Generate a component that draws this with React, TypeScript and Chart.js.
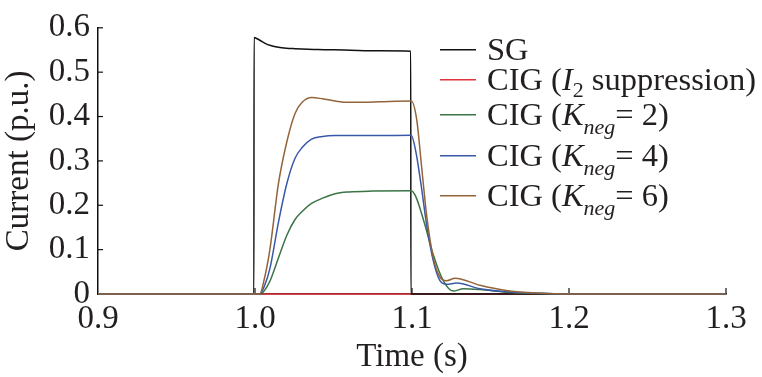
import React, { useEffect, useRef } from "react";
import { Chart, registerables } from "chart.js";

Chart.register(...registerables);

// ---- data (time in s, current in p.u.) ----
const xTicks = [0.9, 1.0, 1.1, 1.2, 1.3];
const yTicks = [0, 0.1, 0.2, 0.3, 0.4, 0.5, 0.6];

const sgTime = [0.9, 0.9993, 0.9994, 1.003, 1.0064, 1.01, 1.0149, 1.02, 1.0255, 1.04, 1.057, 1.08, 1.0992, 1.0993, 1.3];
const sgCurrent = [0, 0, 0.578, 0.572, 0.565, 0.56, 0.556, 0.554, 0.553, 0.551, 0.55, 0.548, 0.547, 0, 0];

const supTime = [0.9, 1.3];
const supCurrent = [0, 0];

const k2Time = [0.9, 1.003, 1.006, 1.0096, 1.0149, 1.0202, 1.0255, 1.03, 1.036, 1.043, 1.051, 1.06, 1.075, 1.0995, 1.1025, 1.1078, 1.1136, 1.1199, 1.1263, 1.1327, 1.1433, 1.16, 1.18, 1.2, 1.3];
const k2Current = [0, 0, 0.008, 0.03, 0.081, 0.132, 0.168, 0.186, 0.204, 0.216, 0.226, 0.23, 0.232, 0.233, 0.219, 0.161, 0.088, 0.03, 0.0065, 0.012, 0.01, 0.004, 0.001, 0, 0];

const k4Time = [0.9, 1.003, 1.006, 1.0096, 1.0149, 1.0202, 1.0255, 1.03, 1.036, 1.043, 1.051, 1.07, 1.0995, 1.1025, 1.1057, 1.1094, 1.1136, 1.1178, 1.122, 1.1285, 1.1433, 1.16, 1.18, 1.2, 1.3];
const k4Current = [0, 0, 0.018, 0.059, 0.161, 0.248, 0.306, 0.33, 0.349, 0.355, 0.357, 0.357, 0.358, 0.32, 0.248, 0.154, 0.074, 0.03, 0.022, 0.0246, 0.012, 0.005, 0.0015, 0, 0];

const k6Time = [0.9, 1.003, 1.006, 1.0096, 1.0149, 1.0202, 1.0255, 1.03, 1.036, 1.043, 1.051, 1.06, 1.07, 1.085, 1.0995, 1.103, 1.1062, 1.1094, 1.1136, 1.1178, 1.1221, 1.1274, 1.1433, 1.16, 1.18, 1.2, 1.3];
const k6Current = [0, 0, 0.035, 0.103, 0.248, 0.342, 0.407, 0.432, 0.443, 0.44, 0.435, 0.432, 0.432, 0.434, 0.435, 0.393, 0.284, 0.175, 0.081, 0.038, 0.03, 0.0355, 0.0196, 0.008, 0.002, 0, 0];

const FONT = "'Liberation Serif', 'Times New Roman', serif";
const TEXT = "#231f20";

const COLORS = {
  sg: "#111111",
  sup: "#e0353d",
  k2: "#3b7446",
  k4: "#3a58a8",
  k6: "#93643a",
};

const toPts = (t: number[], v: number[]) => t.map((x, i) => ({ x, y: v[i] }));

type Seg = { text: string; italic?: boolean; sub?: boolean };
const legendRows: { color: string; segs: Seg[] }[] = [
  { color: COLORS.sg, segs: [{ text: "SG" }] },
  {
    color: COLORS.sup,
    segs: [{ text: "CIG (" }, { text: "I", italic: true }, { text: "2", sub: true }, { text: " suppression)" }],
  },
  {
    color: COLORS.k2,
    segs: [{ text: "CIG (" }, { text: "K", italic: true }, { text: "neg", italic: true, sub: true }, { text: "= 2)" }],
  },
  {
    color: COLORS.k4,
    segs: [{ text: "CIG (" }, { text: "K", italic: true }, { text: "neg", italic: true, sub: true }, { text: "= 4)" }],
  },
  {
    color: COLORS.k6,
    segs: [{ text: "CIG (" }, { text: "K", italic: true }, { text: "neg", italic: true, sub: true }, { text: "= 6)" }],
  },
];
const legendRowOffsets = [22, 52, 87, 128, 168];

const inwardTicks = {
  id: "inwardTicks",
  beforeDatasetsDraw(chart: any) {
    const { ctx, chartArea, scales } = chart;
    ctx.save();
    ctx.strokeStyle = "#111";
    ctx.lineWidth = 1.2;
    const xs = scales.x;
    xs.ticks.forEach((t: any) => {
      const px = xs.getPixelForValue(t.value);
      if (Math.abs(px - chartArea.left) < 2) return;
      ctx.beginPath();
      ctx.moveTo(px, chartArea.bottom);
      ctx.lineTo(px, chartArea.bottom - 6);
      ctx.stroke();
    });
    const ys = scales.y;
    ys.ticks.forEach((t: any) => {
      const py = ys.getPixelForValue(t.value);
      if (Math.abs(py - chartArea.bottom) < 2) return;
      ctx.beginPath();
      ctx.moveTo(chartArea.left, py);
      ctx.lineTo(chartArea.left + 5, py);
      ctx.stroke();
    });
    ctx.restore();
  },
};

const richLegend = {
  id: "richLegend",
  afterDraw(chart: any) {
    const { ctx, chartArea } = chart;
    ctx.save();
    const x0 = chartArea.left + 342;
    legendRows.forEach((row, i) => {
      const ly = chartArea.top + legendRowOffsets[i];
      ctx.strokeStyle = row.color;
      ctx.lineWidth = 1.5;
      ctx.beginPath();
      ctx.moveTo(x0, ly);
      ctx.lineTo(x0 + 36, ly);
      ctx.stroke();
      let x = x0 + 47;
      const base = ly + 10;
      ctx.fillStyle = TEXT;
      ctx.textBaseline = "alphabetic";
      row.segs.forEach((s) => {
        const size = s.sub ? 22 : 32.5;
        ctx.font = `${s.italic ? "italic " : ""}${size}px ${FONT}`;
        const y = s.sub ? base + (s.italic ? 9 : 7) : base;
        ctx.fillText(s.text, x, y);
        x += ctx.measureText(s.text).width;
      });
    });
    ctx.restore();
  },
};

export default function App() {
  const ref = useRef<HTMLCanvasElement | null>(null);
  useEffect(() => {
    if (!ref.current) return;
    const common = {
      pointRadius: 0,
      borderWidth: 1.5,
      cubicInterpolationMode: "monotone" as const,
      clip: 4,
      fill: false,
    };
    const chart = new Chart(ref.current, {
      type: "line",
      data: {
        datasets: [
          { ...common, label: "SG", data: toPts(sgTime, sgCurrent), borderColor: COLORS.sg, order: 3 },
          { ...common, label: "CIG (I2 suppression)", data: toPts(supTime, supCurrent), borderColor: COLORS.sup, order: 4 },
          { ...common, label: "CIG (Kneg= 2)", data: toPts(k2Time, k2Current), borderColor: COLORS.k2, order: 2 },
          { ...common, label: "CIG (Kneg= 4)", data: toPts(k4Time, k4Current), borderColor: COLORS.k4, order: 1 },
          { ...common, label: "CIG (Kneg= 6)", data: toPts(k6Time, k6Current), borderColor: COLORS.k6, order: 0 },
        ],
      },
      options: {
        responsive: false,
        animation: false,
        layout: { padding: { top: 18, right: 36, left: 0, bottom: 0 } },
        plugins: { legend: { display: false }, tooltip: { enabled: false } },
        scales: {
          x: {
            type: "linear",
            min: xTicks[0],
            max: xTicks[xTicks.length - 1],
            afterBuildTicks: (s: any) => {
              s.ticks = xTicks.map((v) => ({ value: v }));
            },
            afterFit: (s: any) => {
              s.height = 83;
            },
            grid: { display: true, drawOnChartArea: false, drawTicks: false },
            border: { display: true, color: "#111", width: 1.5 },
            ticks: {
              color: TEXT,
              font: { family: FONT, size: 33 },
              padding: 6,
              maxRotation: 0,
              callback: (v: any) => Number(v).toFixed(1),
            },
            title: {
              display: true,
              text: "Time (s)",
              color: TEXT,
              font: { family: FONT, size: 33 },
              padding: { top: 0, bottom: 0 },
            },
          },
          y: {
            type: "linear",
            min: yTicks[0],
            max: yTicks[yTicks.length - 1],
            afterBuildTicks: (s: any) => {
              s.ticks = yTicks.map((v) => ({ value: v }));
            },
            afterFit: (s: any) => {
              s.width = 98;
            },
            grid: { display: true, drawOnChartArea: false, drawTicks: false },
            border: { display: true, color: "#111", width: 1.5 },
            ticks: {
              color: TEXT,
              font: { family: FONT, size: 33 },
              padding: 8,
              callback: (v: any) => (Number(v) === 0 ? "0" : Number(v).toFixed(1)),
            },
            title: {
              display: true,
              text: "Current (p.u.)",
              color: TEXT,
              font: { family: FONT, size: 33 },
              padding: { top: 0, bottom: 0 },
            },
          },
        },
      },
      plugins: [inwardTicks, richLegend],
    });
    return () => chart.destroy();
  }, []);
  return (
    <div style={{ position: "fixed", left: 0, top: 0, width: 762, height: 377, background: "#fff" }}>
      <canvas ref={ref} width={762} height={377} style={{ display: "block", width: 762, height: 377 }} />
    </div>
  );
}
